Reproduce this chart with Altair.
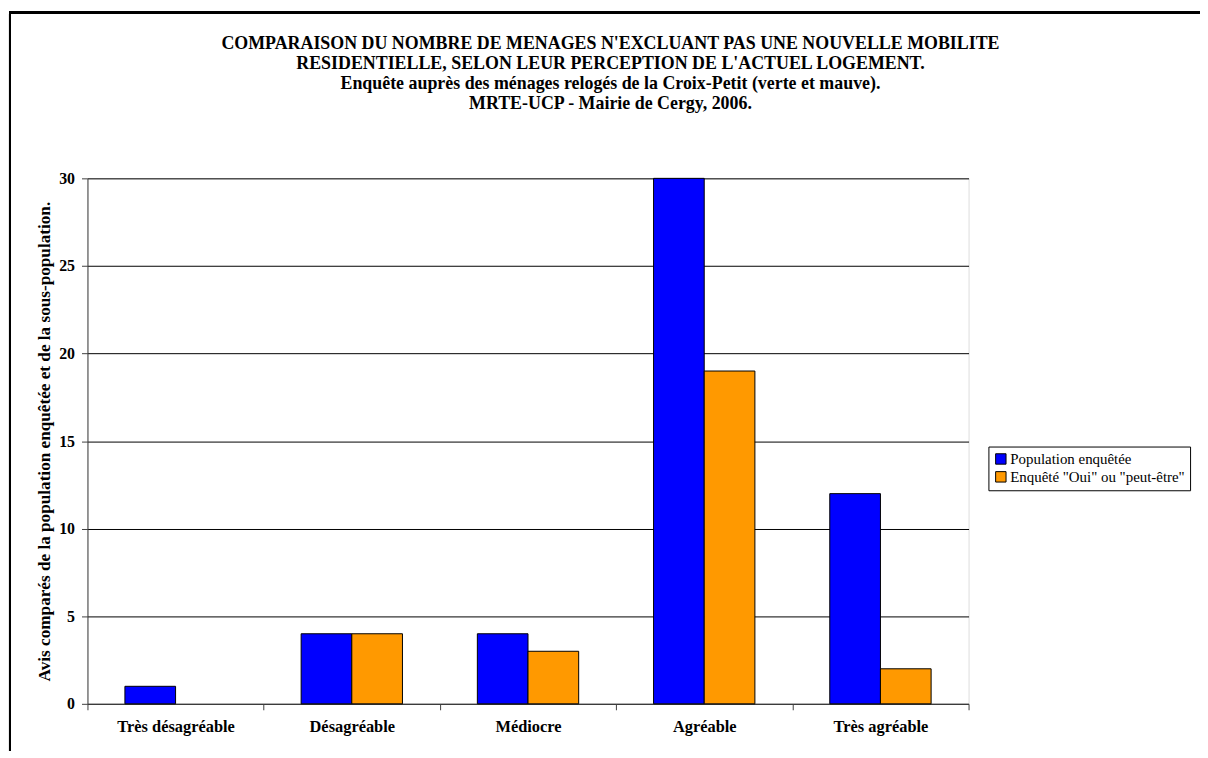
import altair as alt
import pandas as pd

categories = ["Très désagréable", "Désagréable", "Médiocre", "Agréable", "Très agréable"]
series = ["Population enquêtée", 'Enquêté "Oui" ou "peut-être"']
population = [1, 4, 4, 30, 12]
oui = [0, 4, 3, 19, 2]
colors = ["#0000FF", "#FF9900"]
title_lines = [
    "COMPARAISON DU NOMBRE DE MENAGES N'EXCLUANT PAS UNE NOUVELLE MOBILITE",
    "RESIDENTIELLE, SELON LEUR PERCEPTION DE L'ACTUEL LOGEMENT.",
    "Enquête auprès des ménages relogés de la Croix-Petit (verte et mauve).",
    "MRTE-UCP - Mairie de Cergy, 2006.",
]
y_title = "Avis comparés de la population enquêtée et de la sous-population."

rows = []
for c, p, o in zip(categories, population, oui):
    rows.append({"cat": c, "serie": series[0], "val": p})
    rows.append({"cat": c, "serie": series[1], "val": o})
df = pd.DataFrame(rows)

FONT = "Liberation Serif"
W, H = 887, 529

bars = alt.Chart(df).transform_filter("datum.val > 0").mark_bar(
    stroke="black", strokeWidth=1
).encode(
    x=alt.X("cat:N", sort=categories, title=None,
            scale=alt.Scale(domain=categories, paddingInner=0, paddingOuter=0),
            axis=alt.Axis(labelAngle=0, tickBand="extent", labelFont=FONT,
                          labelFontSize=16.5, labelFontWeight="bold", labelColor="black",
                          labelPadding=9, tickSize=6, tickColor="#404040",
                          domainColor="#404040", grid=False)),
    xOffset=alt.XOffset("serie:N", sort=series,
                        scale=alt.Scale(domain=series, paddingInner=0, paddingOuter=0.739)),
    y=alt.Y("val:Q", title=y_title,
            scale=alt.Scale(domain=[0, 30], nice=False),
            axis=alt.Axis(values=[0, 5, 10, 15, 20, 25, 30], labelFont=FONT,
                          labelFontSize=16, labelFontWeight="bold", labelColor="black",
                          labelPadding=7, tickSize=6, tickColor="#404040",
                          domainColor="#404040", grid=True, gridColor="#000000",
                          gridWidth=1, titleFont=FONT, titleFontSize=17.3,
                          titleFontWeight="bold", titleColor="black", titlePadding=5)),
    color=alt.Color("serie:N", sort=series,
                    scale=alt.Scale(domain=series, range=colors),
                    legend=alt.Legend(title=None, orient="none", legendX=907, legendY=270,
                                      strokeColor="black", padding=5, labelFont=FONT,
                                      labelFontSize=15, labelColor="black", labelLimit=400,
                                      symbolType="square", symbolSize=110,
                                      symbolStrokeColor="black", symbolStrokeWidth=1,
                                      rowPadding=2, labelOffset=2)),
)

frame = alt.Chart(df).mark_rect(fill=None, stroke="black", strokeWidth=2).encode(
    x=alt.value(-78), x2=alt.value(W + 260), y=alt.value(-167), y2=alt.value(H + 80)
)

chart = alt.layer(frame, bars).properties(
    width=W, height=H,
    title=alt.TitleParams(text=title_lines, font=FONT, fontSize=18, fontWeight="bold",
                          lineHeight=20, anchor="middle", frame="group", dx=83,
                          offset=-102, color="black"),
    autosize=alt.AutoSizeParams(type="none"),
    padding={"left": 80, "top": 169, "right": 233, "bottom": 45},
).configure_view(stroke="#808080", strokeWidth=1).configure(background="white")

chart.save("out.html", embed_options={"renderer": "svg", "actions": False})
